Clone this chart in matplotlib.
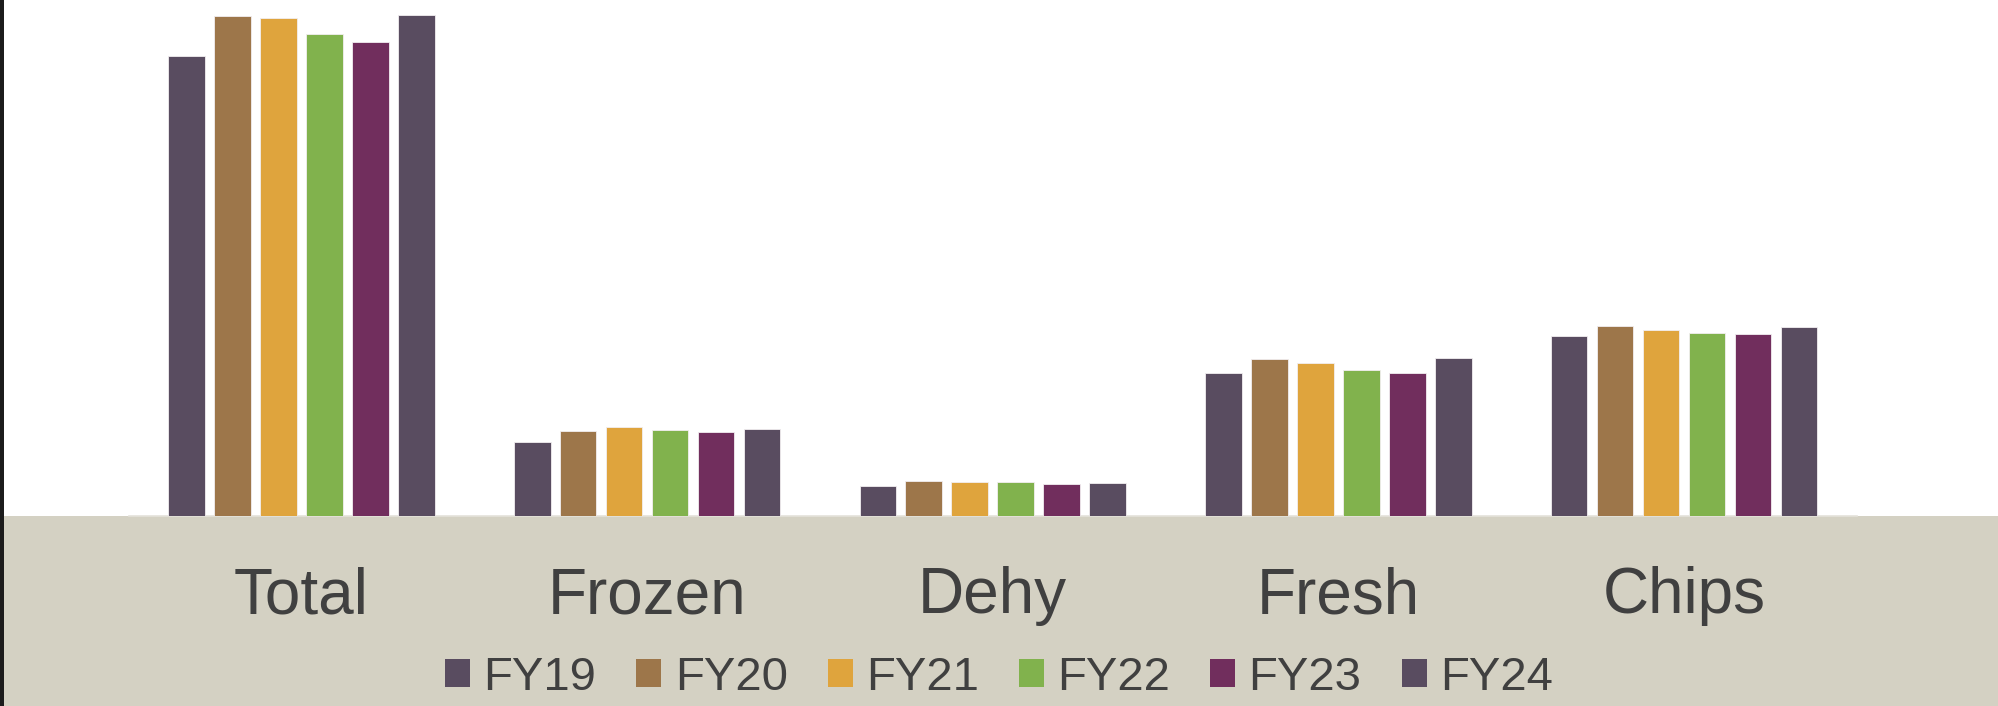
import numpy as np
import matplotlib.pyplot as plt
from matplotlib.patches import Patch, Rectangle

# values (arbitrary units, same scale for all groups)
categories = ['Total', 'Frozen', 'Dehy', 'Fresh', 'Chips']
years = ['FY19', 'FY20', 'FY21', 'FY22', 'FY23', 'FY24']
fy19 = [460, 74, 30, 143, 180]
fy20 = [500, 85, 35, 157, 190]
fy21 = [498, 89, 34, 153, 186]
fy22 = [482, 86, 34, 146, 183]
fy23 = [474, 84, 32, 143, 182]
fy24 = [501, 87, 33, 158, 189]
series = [fy19, fy20, fy21, fy22, fy23, fy24]
colors = ['#594C60', '#9D764A', '#DFA43D', '#81B24D', '#712E5D', '#594C60']

TAN = '#D4D1C3'
TEXT = '#404040'

plt.rcParams['font.family'] = ['Liberation Sans', 'DejaVu Sans']

fig = plt.figure(figsize=(19.98, 7.06), dpi=100)
fig.patch.set_facecolor('white')

# tan band under the plot and dark strip at left edge
band_top = 1 - 516 / 706
fig.patches.append(Rectangle((0, 0), 1, band_top, transform=fig.transFigure,
                             facecolor=TAN, edgecolor='none', zorder=-2))
fig.patches.append(Rectangle((0, 0), 4 / 1998, 1, transform=fig.transFigure,
                             facecolor='#1c1c1c', edgecolor='none', zorder=-1))

ax = fig.add_axes([128.7 / 1998, band_top, (1856.8 - 128.7) / 1998, 1 - band_top])
ax.set_facecolor('none')

x = np.arange(len(categories))
width = 0.106
step = 0.133
for i, (vals, c) in enumerate(zip(series, colors)):
    ax.bar(x + (i - 2.5) * step, vals, width, color=c, edgecolor='#f2eef0',
           linewidth=0.6, label=years[i], zorder=3)

ax.set_xlim(-0.5, len(categories) - 0.5)
ax.set_ylim(0, 516)
ax.set_xticks(x)
ax.set_xticklabels(categories, fontsize=46, color=TEXT)
ax.tick_params(axis='x', length=0, pad=36)
ax.set_yticks([])
for s in ['top', 'right', 'left']:
    ax.spines[s].set_visible(False)
ax.spines['bottom'].set_color('#E4E2DA')
ax.spines['bottom'].set_linewidth(1.2)

handles = [Patch(facecolor=c, edgecolor='none') for c in colors]
fig.legend(handles, years, loc='center', bbox_to_anchor=(0.5, 1 - 678 / 706),
           ncol=6, frameon=False, fontsize=34, labelcolor=TEXT,
           handlelength=0.53, handleheight=0.53, handletextpad=0.28,
           columnspacing=0.85, borderaxespad=0)

fig.savefig('out.png', dpi=100, facecolor=fig.get_facecolor())
